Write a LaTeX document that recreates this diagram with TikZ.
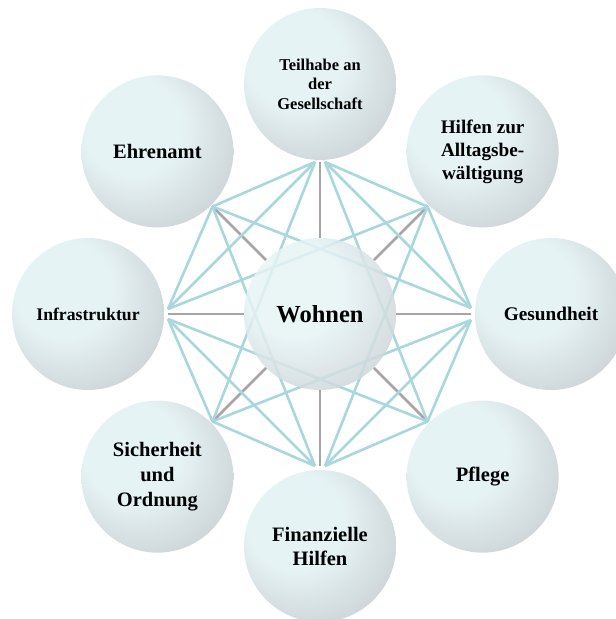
\documentclass[tikz,border=0pt]{standalone}
\usepackage{fontspec}
\setmainfont{Liberation Serif}
\usetikzlibrary{backgrounds}
\definecolor{kreishell}{HTML}{E6F3F5}
\definecolor{kreisdunkel}{HTML}{B8BBBF}
\definecolor{netzfarbe}{HTML}{A9D8DC}
\definecolor{speichefarbe}{HTML}{ABA4A7}
\pgfdeclareradialshading{kugel}{\pgfpoint{-12bp}{12bp}}{color(0bp)=(kreishell); color(16bp)=(kreishell); color(46bp)=(kreisdunkel); color(50bp)=(kreisdunkel)}
\tikzset{
  kreis/.style={circle, minimum size=152pt, inner sep=0pt, shade, shading=kugel, align=center},
  netz/.style={draw=netzfarbe, line width=2.6pt},
  speiche/.style={draw=speichefarbe, line width=2.8pt}
}
\begin{document}
\begin{tikzpicture}[x=1pt,y=1pt]
\useasboundingbox (-320,-305) rectangle (296,314);
\clip (-320,-305) rectangle (296,314);
%Mitte
\node[kreis, fill opacity=0.85, text opacity=1, font=\bfseries\fontsize{24.5}{28}\selectfont] (wohn) at (0,0) {Wohnen};
%aeusserer Ring
\node[kreis, font=\bfseries\fontsize{16.5}{19.6}\selectfont] (teil) at (90:230) {Teilhabe an\\der\\Gesellschaft};
\node[kreis, font=\bfseries\fontsize{19.2}{23}\selectfont] (hilf) at (45:230) {Hilfen zur\\Alltagsbe-\\w\"altigung};
\node[kreis, font=\bfseries\fontsize{19.3}{23}\selectfont] (gesu) at (0:231) {Gesundheit};
\node[kreis, font=\bfseries\fontsize{20.5}{24}\selectfont] (pfle) at (-45:230) {Pflege};
\node[kreis, font=\bfseries\fontsize{20.5}{24}\selectfont] (fina) at (-90:232) {Finanzielle\\Hilfen};
\node[kreis, font=\bfseries\fontsize{20.5}{25}\selectfont] (sich) at (-135:230) {Sicherheit\\und\\Ordnung};
\node[kreis, font=\bfseries\fontsize{17.7}{21}\selectfont] (infr) at (180:232) {Infrastruktur};
\node[kreis, font=\bfseries\fontsize{20.5}{24}\selectfont] (ehre) at (135:230) {Ehrenamt};
%Knotenpunkte
\coordinate (tl) at (-5,152);
\coordinate (tr) at (5,152);
\coordinate (tm) at (0,152);
\coordinate (h) at (45:152);
\coordinate (gu) at (151,6);
\coordinate (gd) at (151,-6);
\coordinate (gm) at (151,0);
\coordinate (p) at (-45:152);
\coordinate (fl) at (-5,-152);
\coordinate (fr) at (5,-152);
\coordinate (fm) at (0,-152);
\coordinate (s) at (-135:152);
\coordinate (iu) at (-152,5);
\coordinate (id) at (-152,-5);
\coordinate (im) at (-152,0);
\coordinate (e) at (135:152);
\begin{scope}[on background layer]
%Speichen
\draw[speiche] (tm)--(wohn);
\draw[speiche] (h)--(wohn);
\draw[speiche] (gm)--(wohn);
\draw[speiche] (p)--(wohn);
\draw[speiche] (fm)--(wohn);
\draw[speiche] (s)--(wohn);
\draw[speiche] (im)--(wohn);
\draw[speiche] (e)--(wohn);
%Netz
\draw[netz] (tr)--(h) (tr)--(gu) (tr)--(p);
\draw[netz] (tl)--(e) (tl)--(iu) (tl)--(s);
\draw[netz] (h)--(gu) (h)--(fr) (h)--(iu);
\draw[netz] (gd)--(p) (gd)--(fr) (gd)--(s) (gu)--(e);
\draw[netz] (p)--(fr) (p)--(id);
\draw[netz] (fl)--(s) (fl)--(id) (fl)--(e);
\draw[netz] (s)--(id);
\draw[netz] (iu)--(e);
\end{scope}
\end{tikzpicture}
\end{document}
